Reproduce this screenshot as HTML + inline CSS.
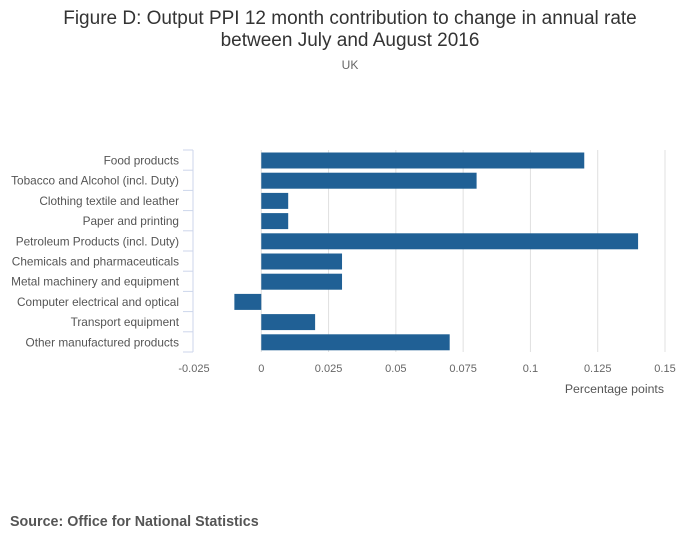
<!DOCTYPE html>
<html><head><meta charset="utf-8"><style>
body{margin:0;background:#fff;}
svg text{font-family:"Liberation Sans",sans-serif;}
</style></head><body>
<svg width="700" height="549" xmlns="http://www.w3.org/2000/svg">
<text x="350" y="24" text-anchor="middle" font-size="19" fill="#333">Figure D: Output PPI 12 month contribution to change in annual rate</text>
<text x="350" y="46" text-anchor="middle" font-size="19" fill="#333">between July and August 2016</text>
<text x="350" y="69" text-anchor="middle" font-size="12" fill="#666">UK</text>
<g id="grid"></g><g id="bars"></g><g id="ylab"></g><g id="xlab"></g>
<text x="664" y="393" text-anchor="end" font-size="12.3" fill="#555">Percentage points</text>
<text x="10" y="526" font-size="14.3" font-weight="bold" fill="#555">Source: Office for National Statistics</text>
</svg>
<script>
const categories=["Food products","Tobacco and Alcohol (incl. Duty)","Clothing textile and leather","Paper and printing","Petroleum Products (incl. Duty)","Chemicals and pharmaceuticals","Metal machinery and equipment","Computer electrical and optical","Transport equipment","Other manufactured products"];
const values=[0.12,0.08,0.01,0.01,0.14,0.03,0.03,-0.01,0.02,0.07];
const ticks=[-0.025,0,0.025,0.05,0.075,0.1,0.125,0.15];
const tickLabels=["-0.025","0","0.025","0.05","0.075","0.1","0.125","0.15"];
const NS="http://www.w3.org/2000/svg";
const x0=194,x1=665,vmin=-0.025,vmax=0.15,topY=150,rowH=20.2;
const xs=v=>x0+(v-vmin)/(vmax-vmin)*(x1-x0);
const ys=i=>topY+i*rowH;
function mk(t,a,p){const e=document.createElementNS(NS,t);for(const k in a)e.setAttribute(k,a[k]);p.appendChild(e);return e;}
const g=document.getElementById('grid'),b=document.getElementById('bars'),yl=document.getElementById('ylab'),xl=document.getElementById('xlab');
ticks.forEach((t,i)=>{
 if(i>0){const l=mk('line',{x1:xs(t),x2:xs(t),y1:topY,y2:ys(categories.length),stroke:'#e0e0e0','stroke-width':1},g);
 
 }
 const tx=mk('text',{x:xs(t),y:372,'text-anchor':'middle','font-size':11,fill:'#666'},xl);tx.textContent=tickLabels[i];
 
 
});
const ax=mk('line',{x1:193,x2:193,y1:topY,y2:ys(categories.length),stroke:'#ccd6eb','stroke-width':1},g);


for(let i=0;i<=categories.length;i++){const tk=mk('line',{x1:183,x2:193,y1:ys(i),y2:ys(i),stroke:'#ccd6eb','stroke-width':1},g);
 
 }
categories.forEach((c,i)=>{
 const v=values[i],a=xs(Math.min(0,v)),w=Math.abs(xs(v)-xs(0));
 const r=mk('rect',{x:a,y:ys(i)+2.5,width:w,height:16,fill:'#206095'},b);
 
 
 const t=mk('text',{x:179,y:ys(i)+14.5,'text-anchor':'end','font-size':11.8,fill:'#555'},yl);t.textContent=c;
 
 
});
</script>
</body></html>
